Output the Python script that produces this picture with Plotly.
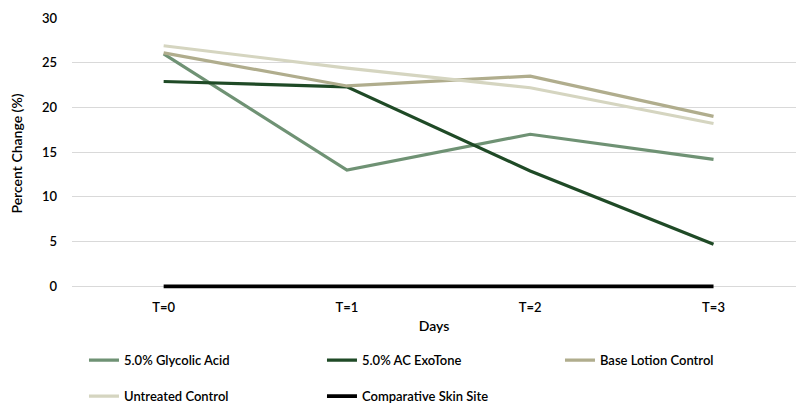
import plotly.graph_objects as go

days = ["T=0", "T=1", "T=2", "T=3"]
glycolic = [26.0, 13.0, 17.0, 14.2]
exotone = [22.9, 22.3, 12.9, 4.7]
base_lotion = [26.1, 22.4, 23.5, 19.0]
untreated = [26.9, 24.4, 22.2, 18.2]
comparative = [0, 0, 0, 0]

series = [
    ("5.0% Glycolic Acid", glycolic, "#6f9274", "legend"),
    ("5.0% AC ExoTone", exotone, "#1f4a26", "legend"),
    ("Base Lotion Control", base_lotion, "#b0ad8d", "legend"),
    ("Untreated Control", untreated, "#d5d5c0", "legend2"),
    ("Comparative Skin Site", comparative, "#000000", "legend2"),
]

fig = go.Figure()
for name, vals, color, leg in series:
    fig.add_trace(go.Scatter(
        x=days, y=vals, name=name, mode="lines",
        line=dict(color=color, width=3.2 if name != "Comparative Skin Site" else 3.8),
        legend=leg,
    ))

font = "Lato, 'Open Sans', sans-serif"
legend_common = dict(
    orientation="h", xanchor="left", yanchor="middle",
    entrywidth=193, entrywidthmode="pixels",
    font=dict(size=13, family=font, weight=600), itemwidth=30,
    bgcolor="rgba(0,0,0,0)",
)
unit = (286 - 17.5) / 30.0
ymin = -0.3
bottom_px = 286 - ymin * unit
plot_h = bottom_px - 17.5
fig.update_layout(
    width=796, height=405,
    margin=dict(l=72, r=0, t=17.5, b=405 - bottom_px, autoexpand=False),
    paper_bgcolor="white", plot_bgcolor="white",
    font=dict(family=font, size=13, color="#000000", weight=600),
    xaxis=dict(
        type="category", range=[-0.5, 3.45], automargin=False,
        showgrid=False, showline=False, zeroline=False,
        ticks="", ticklabelstandoff=9,
        tickfont=dict(size=13, weight=600),
        title=dict(text="Days", font=dict(size=14, weight=600), standoff=7),
    ),
    yaxis=dict(
        range=[ymin, 30], dtick=5, tick0=0, automargin=False,
        showgrid=True, gridcolor="#d9d9d9", gridwidth=1,
        zeroline=False, showline=False, ticks="",
        ticklabelstandoff=14,
        tickfont=dict(size=13, weight=600),
        title=dict(text="Percent Change (%)", font=dict(size=14, weight=600), standoff=16),
    ),
    legend=dict(x=(84 - 72) / 725, y=(bottom_px - 360) / plot_h, **legend_common),
    legend2=dict(x=(84 - 72) / 725, y=(bottom_px - 396) / plot_h, **legend_common),
    showlegend=True,
)

fig.write_html(
    "out.html",
    config={"displayModeBar": False},
    post_script="document.body.style.margin='0';document.body.style.overflow='hidden';",
)
